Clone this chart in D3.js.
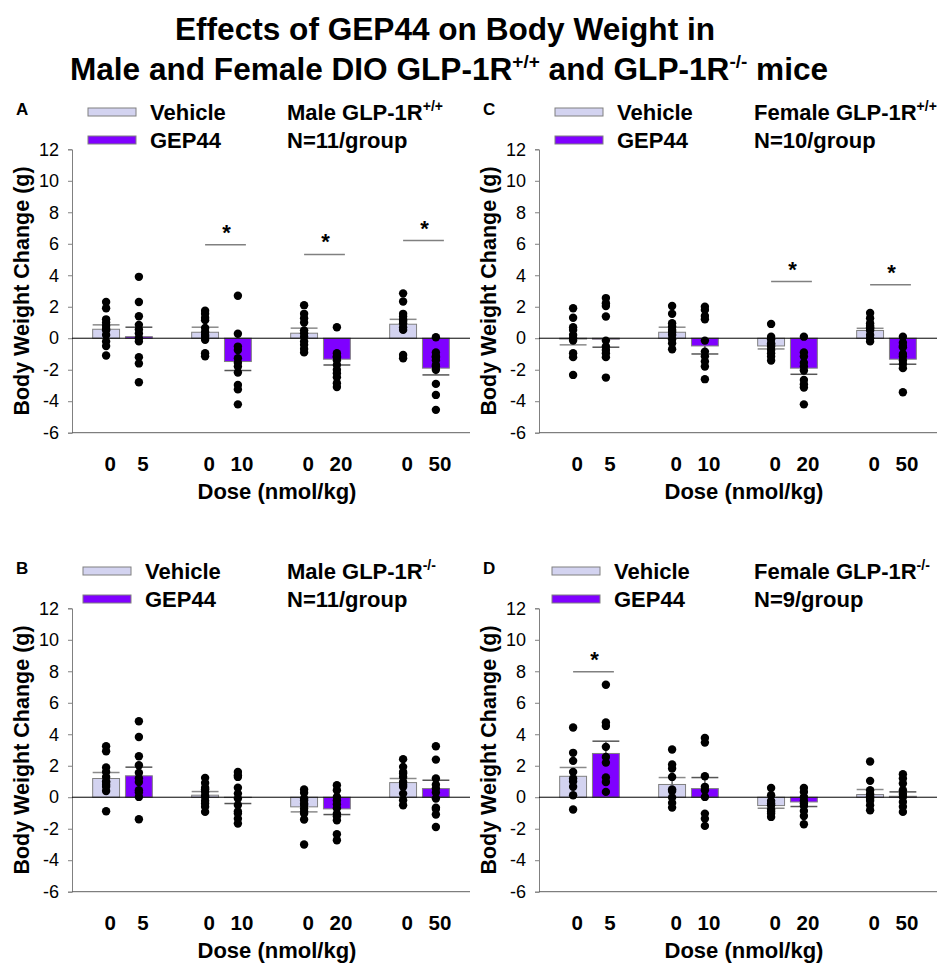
<!DOCTYPE html>
<html>
<head>
<meta charset="utf-8">
<script src="https://cdn.jsdelivr.net/npm/d3@7"></script>
<style>
  body { margin: 0; background: #fff; }
  svg { font-family: "Liberation Sans", Arial, sans-serif; }
</style>
</head>
<body>
<svg id="chart" width="938" height="965"></svg>
<script>
// ---- data ----
var doses = ["5", "10", "20", "50"];
var treatments = ["Vehicle", "GEP44"];
var yTicks = [-6, -4, -2, 0, 2, 4, 6, 8, 10, 12];

// Panel A: male GLP-1R+/+
var aVehMean = [0.57, 0.38, 0.32, 0.89];
var aVehSem  = [0.28, 0.32, 0.32, 0.31];
var aGepMean = [0.10, -1.48, -1.33, -1.90];
var aGepSem  = [0.60, 0.57, 0.37, 0.43];
var aVehDots = [
  [2.3, 1.9, 1.2, 1.0, 0.8, 0.6, 0.5, 0.2, -0.2, -0.5, -1.1],
  [1.75, 1.55, 1.3, 1.15, 0.65, 0.4, 0.2, 0.1, -0.1, -0.95, -1.15],
  [2.1, 1.55, 1.27, 1.0, 0.5, 0.32, 0.1, -0.2, -0.42, -0.68, -0.9],
  [2.85, 2.33, 1.55, 1.38, 1.17, 1.1, 0.95, 0.7, 0.53, -1.06, -1.27]
];
var aGepDots = [
  [3.9, 2.3, 1.4, 0.85, 0.55, 0.3, 0, -0.2, -1.2, -1.6, -2.8],
  [2.7, 0.28, -0.53, -0.75, -1.27, -1.55, -1.8, -2.18, -2.97, -3.25, -4.2],
  [0.7, -0.95, -1.15, -1.2, -1.4, -1.7, -2.0, -2.22, -2.48, -2.86, -3.1],
  [0.06, -0.9, -1.15, -1.2, -1.4, -1.7, -1.8, -2.0, -2.9, -3.6, -4.55]
];
var aSig = [{ g: 1, y: 5.93 }, { g: 2, y: 5.32 }, { g: 3, y: 6.2 }];

// Panel B: male GLP-1R-/-
var bVehMean = [1.19, 0.13, -0.61, 0.93];
var bVehSem  = [0.38, 0.23, 0.32, 0.26];
var bGepMean = [1.36, -0.02, -0.74, 0.55];
var bGepSem  = [0.55, 0.38, 0.36, 0.53];
var bVehDots = [
  [3.24, 2.92, 1.89, 1.61, 1.29, 1.0, 0.97, 0.8, 0.66, 0.4, -0.89],
  [1.23, 0.91, 0.61, 0.5, 0.34, 0.1, 0.02, -0.23, -0.4, -0.61, -0.93],
  [0.49, 0.28, -0.08, -0.2, -0.4, -0.5, -0.72, -0.9, -1.04, -1.42, -3.0],
  [2.42, 1.93, 1.61, 1.5, 1.29, 0.97, 0.8, 0.66, 0.23, -0.19, -0.51]
];
var bGepDots = [
  [4.83, 3.83, 2.6, 2.03, 1.55, 1.2, 0.97, 0.44, 0.3, 0.02, -1.4],
  [1.61, 1.4, 1.29, 0.6, 0.23, -0.08, -0.5, -0.9, -1.04, -1.36, -1.67],
  [0.76, 0.44, 0.02, -0.2, -0.44, -0.7, -1.04, -1.2, -1.46, -2.35, -2.73],
  [3.24, 2.39, 1.19, 0.8, 0.55, 0.3, -0.08, -0.66, -0.75, -1.1, -1.89]
];
var bSig = [];

// Panel C: female GLP-1R+/+
var cVehMean = [-0.05, 0.38, -0.49, 0.49];
var cVehSem  = [0.37, 0.32, 0.19, 0.14];
var cGepMean = [-0.06, -0.49, -1.90, -1.33];
var cGepSem  = [0.51, 0.51, 0.39, 0.32];
var cVehDots = [
  [1.9, 1.3, 0.7, 0.53, 0.2, 0, -0.15, -0.95, -1.2, -2.33],
  [2.05, 1.55, 0.95, 0.74, 0.53, 0.2, -0.06, -0.32, -0.7, 0.4],
  [0.91, 0.1, -0.06, -0.32, -0.53, -0.74, -0.95, -1.16, -1.42, -0.4],
  [1.6, 1.27, 0.95, 0.7, 0.49, 0.2, 0, -0.2, 0.8, 0.6]
];
var cGepDots = [
  [2.55, 2.22, 2.05, 1.38, -0.15, -0.53, -0.75, -0.95, -1.2, -2.5],
  [2.0, 1.8, 1.42, 1.2, -0.15, -0.85, -1.15, -1.48, -1.8, -2.6],
  [0.1, -0.9, -1.16, -1.55, -1.8, -2.05, -2.65, -2.92, -3.13, -4.2],
  [0.1, -0.28, -0.5, -0.57, -1.0, -1.16, -1.42, -1.63, -1.9, -3.43]
];
var cSig = [{ g: 2, y: 3.6 }, { g: 3, y: 3.39 }];

// Panel D: female GLP-1R-/-
var dVehMean = [1.33, 0.81, -0.53, 0.17];
var dVehSem  = [0.56, 0.44, 0.17, 0.32];
var dGepMean = [2.78, 0.55, -0.30, 0.06];
var dGepSem  = [0.78, 0.70, 0.29, 0.28];
var dVehDots = [
  [4.43, 2.82, 2.31, 1.61, 1.19, 1.0, 0.66, 0.13, -0.78],
  [3.03, 2.08, 1.82, 1.29, 0.5, 0.4, -0.02, -0.36, -0.66],
  [0.59, 0.13, -0.23, -0.4, -0.51, -0.78, -0.9, -1.04, -1.25],
  [2.27, 1.04, 0.44, 0.2, 0.06, -0.1, -0.23, -0.51, -0.83]
];
var dGepDots = [
  [7.14, 4.75, 4.53, 3.2, 2.56, 2.2, 1.25, 0.97, 0.34],
  [3.77, 3.47, 1.33, 0.66, 0.44, 0.02, -1.04, -1.36, -1.82],
  [0.59, 0.34, 0.02, -0.23, -0.4, -0.55, -0.87, -1.19, -1.72],
  [1.46, 1.19, 0.87, 0.44, 0.2, 0.02, -0.3, -0.61, -0.93]
];
var dSig = [{ g: 0, y: 7.97 }];

var panels = [
  { letter: "A", sex: "Male", sup: "+/+", n: "N=11/group", ox: 0, oy: 0, legDx: 0,
    vm: aVehMean, vs: aVehSem, gm: aGepMean, gs: aGepSem, vd: aVehDots, gd: aGepDots, sig: aSig },
  { letter: "C", sex: "Female", sup: "+/+", n: "N=10/group", ox: 467, oy: 0, legDx: 0,
    vm: cVehMean, vs: cVehSem, gm: cGepMean, gs: cGepSem, vd: cVehDots, gd: cGepDots, sig: cSig },
  { letter: "B", sex: "Male", sup: "-/-", n: "N=11/group", ox: 0, oy: 459, legDx: -5,
    vm: bVehMean, vs: bVehSem, gm: bGepMean, gs: bGepSem, vd: bVehDots, gd: bGepDots, sig: bSig },
  { letter: "D", sex: "Female", sup: "-/-", n: "N=9/group", ox: 467, oy: 459, legDx: -3,
    vm: dVehMean, vs: dVehSem, gm: dGepMean, gs: dGepSem, vd: dVehDots, gd: dGepDots, sig: dSig }
];

var colors = { Vehicle: "#d3d3f0", GEP44: "#7f00ff" };
var svg = d3.select("#chart");

// ---- title ----
var title = svg.append("g")
  .attr("font-family", "'Liberation Sans Narrow', 'Liberation Sans', Arial, sans-serif")
  .attr("font-weight", "bold")
  .style("font-size", "31.6px")
  .attr("text-anchor", "middle");
title.append("text").attr("x", 445).attr("y", 40).text("Effects of GEP44 on Body Weight in");
var t2 = title.append("text").attr("x", 449).attr("y", 80);
t2.append("tspan").text("Male and Female DIO GLP-1R");
t2.append("tspan").attr("dy", -12).style("font-size", "19px").text("+/+");
t2.append("tspan").attr("dy", 12).text(" and GLP-1R");
t2.append("tspan").attr("dy", -12).style("font-size", "19px").text("-/-");
t2.append("tspan").attr("dy", 12).text(" mice");

// ---- shared scales ----
var y = d3.scaleLinear().domain([-6, 12]).range([432.7, 149.3]);
var xg = d3.scaleBand().domain(doses).range([73, 469]);
var xt = d3.scaleBand().domain(treatments).range([0, xg.bandwidth()])
  .paddingInner(0.18).paddingOuter(0.6);
var bw = xt.bandwidth();

function cx(gi, t) {
  return xg(doses[gi]) + xt(t) + bw / 2;
}

panels.forEach(function (p) {
  var g = svg.append("g").attr("transform", "translate(" + p.ox + "," + p.oy + ")");

  // panel letter
  g.append("text").attr("x", 16).attr("y", 115)
    .attr("font-weight", "bold").style("font-size", "17px").text(p.letter);

  // legend
  var leg = g.append("g").attr("transform", "translate(" + p.legDx + ",0)");
  treatments.forEach(function (t, i) {
    leg.append("rect").attr("x", 88).attr("y", 108 + i * 28).attr("width", 48).attr("height", 8)
      .attr("fill", colors[t]).attr("stroke", "#808080").attr("stroke-width", 1);
    leg.append("text").attr("x", 150).attr("y", 120 + i * 28)
      .attr("font-weight", "bold").style("font-size", "22px").text(t);
  });
  var lt = g.append("text").attr("x", 287).attr("y", 120)
    .attr("font-weight", "bold").style("font-size", "22px");
  lt.append("tspan").text(p.sex + " GLP-1R");
  lt.append("tspan").attr("dy", -9).style("font-size", "14px").text(p.sup);
  g.append("text").attr("x", 287).attr("y", 148)
    .attr("font-weight", "bold").style("font-size", "22px").text(p.n);

  // y axis
  var ya = g.append("g").attr("transform", "translate(72,0)")
    .call(d3.axisLeft(y).tickValues(yTicks).tickSize(4).tickPadding(9)
      .tickFormat(function (d) { return String(d); }));
  ya.attr("font-size", 18).attr("font-family", "'Liberation Sans', Arial, sans-serif");
  ya.select(".domain").attr("stroke", "#808080");
  ya.selectAll(".tick line").attr("stroke", "#808080");
  ya.selectAll(".tick text").attr("fill", "#000").style("font-size", "18px");

  g.append("text")
    .attr("transform", "translate(29," + ((y(12) + y(-6)) / 2) + ") rotate(-90)")
    .attr("text-anchor", "middle").attr("font-weight", "bold").style("font-size", "21.5px")
    .text("Body Weight Change (g)");

  // bottom axis line
  g.append("line").attr("x1", 72).attr("x2", 470).attr("y1", y(-6)).attr("y2", y(-6))
    .attr("stroke", "#606060").attr("stroke-width", 1);

  // bars
  var rows = [];
  doses.forEach(function (d, i) {
    rows.push({ gi: i, t: "Vehicle", mean: p.vm[i], sem: p.vs[i], dots: p.vd[i] });
    rows.push({ gi: i, t: "GEP44", mean: p.gm[i], sem: p.gs[i], dots: p.gd[i] });
  });

  g.selectAll("rect.bar").data(rows).enter().append("rect")
    .attr("class", "bar")
    .attr("x", function (r) { return cx(r.gi, r.t) - bw / 2; })
    .attr("y", function (r) { return y(Math.max(0, r.mean)); })
    .attr("width", bw)
    .attr("height", function (r) { return Math.abs(y(r.mean) - y(0)); })
    .attr("fill", function (r) { return colors[r.t]; })
    .attr("stroke", "#808080").attr("stroke-width", 1);

  // error bars (one-sided, away from zero)
  function tip(r) { return r.mean >= 0 ? r.mean + r.sem : r.mean - r.sem; }
  g.selectAll("line.err").data(rows).enter().append("line")
    .attr("class", "err")
    .attr("x1", function (r) { return cx(r.gi, r.t); })
    .attr("x2", function (r) { return cx(r.gi, r.t); })
    .attr("y1", function (r) { return y(r.mean); })
    .attr("y2", function (r) { return y(tip(r)); })
    .attr("stroke", "#606060").attr("stroke-width", 1.5);
  g.selectAll("line.cap").data(rows).enter().append("line")
    .attr("class", "cap")
    .attr("x1", function (r) { return cx(r.gi, r.t) - bw / 2; })
    .attr("x2", function (r) { return cx(r.gi, r.t) + bw / 2; })
    .attr("y1", function (r) { return y(tip(r)); })
    .attr("y2", function (r) { return y(tip(r)); })
    .attr("stroke", function (r) { return r.t === "Vehicle" ? "#8a8a8a" : "#555"; })
    .attr("stroke-width", 1.5);

  // zero line
  g.append("line").attr("x1", 72).attr("x2", 470).attr("y1", y(0)).attr("y2", y(0))
    .attr("stroke", "#000").attr("stroke-width", 1);

  // individual animals
  rows.forEach(function (r) {
    g.selectAll(null).data(r.dots).enter().append("circle")
      .attr("cx", cx(r.gi, r.t))
      .attr("cy", function (v) { return y(v); })
      .attr("r", 4.2)
      .attr("fill", "#000");
  });

  // significance
  p.sig.forEach(function (s) {
    var x1 = cx(s.g, "Vehicle"), x2 = cx(s.g, "GEP44") + 8;
    g.append("line").attr("x1", x1).attr("x2", x2).attr("y1", y(s.y)).attr("y2", y(s.y))
      .attr("stroke", "#808080").attr("stroke-width", 1.5);
    g.append("text").attr("x", (x1 + x2) / 2 + 1).attr("y", y(s.y) - 5)
      .attr("text-anchor", "middle").attr("font-weight", "bold").style("font-size", "22px").text("*");
  });

  // x tick labels
  rows.forEach(function (r) {
    g.append("text").attr("x", cx(r.gi, r.t) + 4).attr("y", 471)
      .attr("text-anchor", "middle").attr("font-weight", "bold").style("font-size", "20.5px")
      .text(r.t === "Vehicle" ? "0" : doses[r.gi]);
  });
  g.append("text").attr("x", 277).attr("y", 499)
    .attr("text-anchor", "middle").attr("font-weight", "bold").style("font-size", "22px")
    .text("Dose (nmol/kg)");
});
</script>
</body>
</html>
